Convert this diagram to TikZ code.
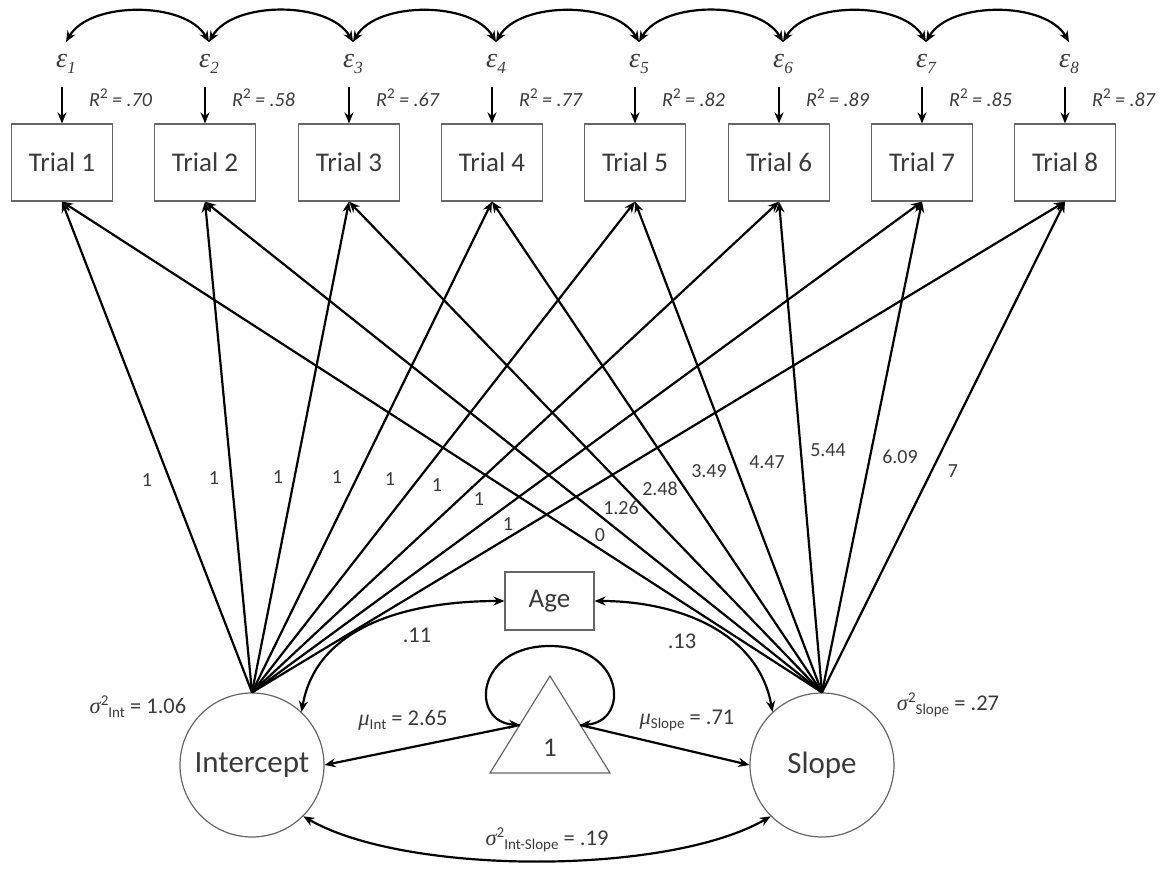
\documentclass[tikz,border=0pt]{standalone}
\usepackage{fontspec}
\setmainfont{Carlito}
\newfontfamily\grk{Liberation Serif}
\usetikzlibrary{arrows.meta}
\definecolor{txt}{HTML}{3A3A3A}
\definecolor{bord}{HTML}{666666}
\newcommand{\subtx}[1]{\raisebox{-4pt}{\fontsize{15}{15}\selectfont #1}}
\newcommand{\supdigit}[1]{\raisebox{8pt}{\fontsize{15}{15}\selectfont #1}}
\begin{document}
\begin{tikzpicture}[x=1pt,y=-1pt,
  trial/.style={draw=bord, line width=1.2pt, minimum width=101pt, minimum height=77pt, inner sep=0pt, font=\fontsize{27}{30}\selectfont, text=txt},
  latent/.style={circle, draw=bord, line width=1.2pt, minimum size=144pt, inner sep=0pt, font=\fontsize{31}{34}\selectfont, text=txt},
  arr/.style={line width=2.2pt, -{Stealth[length=11pt,width=9pt]}},
  cov/.style={line width=2.2pt, {Stealth[length=11pt,width=9pt]}-{Stealth[length=11pt,width=9pt]}},
  load/.style={font=\fontsize{20}{22}\selectfont, text=txt, inner sep=0pt},
  est/.style={font=\fontsize{22.5}{25}\selectfont, text=txt, inner sep=0pt},
  rsq/.style={font=\fontsize{20}{22}\selectfont\itshape, text=txt, inner sep=0pt, anchor=west},
  epslab/.style={font=\fontsize{28}{30}\selectfont, text=txt, inner sep=0pt},
]
\useasboundingbox (0,0) rectangle (1168,869);

% observed trials, residuals, R^2
\foreach \i/\x/\r in {1/62/.70, 2/205/.58, 3/349/.67, 4/492/.77, 5/635/.82, 6/779/.89, 7/922/.85, 8/1065/.87} {
  \node[trial] (T\i) at (\x,162.5) {Trial \i};
  \coordinate (d\i) at (\x,87);
  \draw[arr] (d\i) -- (T\i.north);
  \node[epslab] (e\i) at (\x+4,64) {{\grk\itshape ε}\raisebox{-6pt}{\fontsize{17}{17}\selectfont\grk\itshape \i}};
  \coordinate (a\i) at (\x+4,42);
  \node[rsq] (r\i) at (\x+27,98) {R\supdigit{\upshape 2} = \r};
}

% residual covariances
\foreach \i [evaluate=\i as \j using int(\i+1)] in {1,...,7} {
  \draw[cov] (a\i) to[out=60,in=120,looseness=0.85] (a\j);
}

% latent factors
\node[latent] (I) at (252,765) {Intercept};
\node[latent] (S) at (822,765) {Slope};

% loadings
\foreach \i in {1,...,8} {
  \draw[arr] (I.north) -- (T\i.south);
  \draw[arr] (S.north) -- (T\i.south);
}

% loading labels
\foreach \n/\x/\y/\t in {l1/147/480/1, l2/214/478/1, l3/278/477/1, l4/337/477/1, l5/390/479/1, l6/437/485/1, l7/479/499/1, l8/508/524/1,
  s1/600/535/0, s2/621/508/1.26, s3/660/489/2.48, s4/709/471/3.49, s5/767/462/4.47, s6/828/450/5.44, s7/900/457/6.09, s8/953/471/7} {
  \node[load] (\n) at (\x,\y) {\t};
}

% Age
\node[trial, minimum width=89pt, minimum height=58pt] (Age) at (549.5,601) {Age};
\draw[cov] (I.47) to[out=80,in=180] (Age.west);
\draw[cov] (S.133) to[out=100,in=0] (Age.east);
\node[est] (c11) at (417,635) {.11};
\node[est] (c13) at (682,641) {.13};

% constant triangle
\coordinate (tA) at (550,676);
\coordinate (tR) at (610,773);
\coordinate (tLb) at (490,773);
\draw[draw=bord, line width=1.2pt] (tA) -- (tR) -- (tLb) -- cycle;
\node[trial, draw=none, minimum width=0pt, minimum height=0pt] (one) at (550,748) {1};
\coordinate (TL) at (520,725);
\coordinate (TR) at (580,725);
\coordinate (lt) at (550,646);
\draw[cov] (TL) .. controls (470,722) and (475,646) .. (lt) .. controls (625,646) and (630,722) .. (TR);
\draw[arr] (TL) -- (I.east);
\draw[arr] (TR) -- (S.west);

% intercept-slope covariance
\draw[cov] (I.-45) to[out=-30,in=-150,looseness=0.65] (S.-135);

% estimates
\node[est] (vI) at (138,707) {{\grk\itshape σ}\supdigit{2}\subtx{Int} = 1.06};
\node[est] (vS) at (948,705) {{\grk\itshape σ}\supdigit{2}\subtx{Slope} = .27};
\node[est] (mI) at (403,720) {{\grk\itshape μ}\subtx{Int} = 2.65};
\node[est] (mS) at (687,720) {{\grk\itshape μ}\subtx{Slope} = .71};
\node[est] (vIS) at (547,840) {{\grk\itshape σ}\supdigit{2}\subtx{Int-Slope} = .19};
\end{tikzpicture}
\end{document}
